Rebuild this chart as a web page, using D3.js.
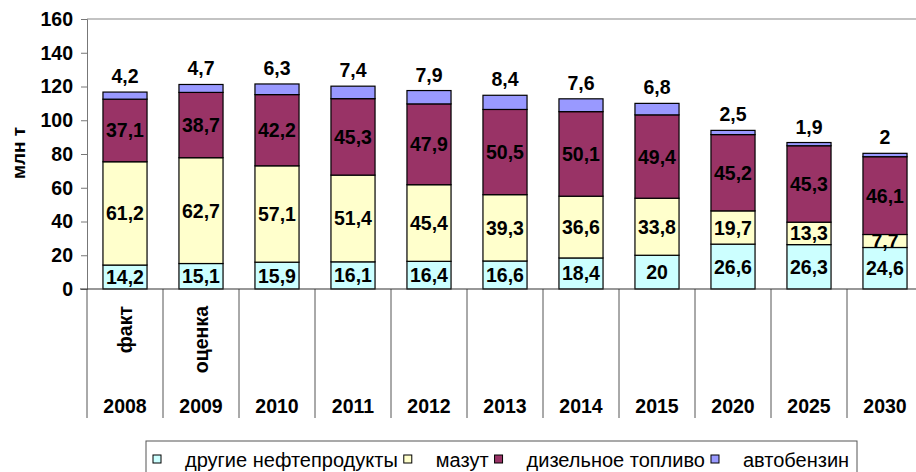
<!DOCTYPE html>
<html>
<head>
<meta charset="utf-8">
<script src="https://cdn.jsdelivr.net/npm/d3@7"></script>
<style>
  body { margin: 0; background: #fff; }
  svg text { font-family: "Liberation Sans", Arial, sans-serif; }
</style>
</head>
<body>
<div id="chart"></div>
<script>
// Data
var years = ["2008", "2009", "2010", "2011", "2012", "2013", "2014", "2015", "2020", "2025", "2030"];
var notes = ["факт", "оценка", "", "", "", "", "", "", "", "", ""];
var other = [14.2, 15.1, 15.9, 16.1, 16.4, 16.6, 18.4, 20, 26.6, 26.3, 24.6];
var mazut = [61.2, 62.7, 57.1, 51.4, 45.4, 39.3, 36.6, 33.8, 19.7, 13.3, 7.7];
var diesel = [37.1, 38.7, 42.2, 45.3, 47.9, 50.5, 50.1, 49.4, 45.2, 45.3, 46.1];
var petrol = [4.2, 4.7, 6.3, 7.4, 7.9, 8.4, 7.6, 6.8, 2.5, 1.9, 2];
var seriesNames = ["другие нефтепродукты", "мазут", "дизельное топливо", "автобензин"];
var seriesColors = ["#ccffff", "#ffffcc", "#993366", "#9999ff"];
var yTicks = [0, 20, 40, 60, 80, 100, 120, 140, 160];

var width = 916, height = 472;
var svg = d3.select("#chart").append("svg")
    .attr("width", width)
    .attr("height", height);

var x = d3.scaleBand().domain(years).range([87, 923]).padding(0);
var y = d3.scaleLinear().domain([0, 160]).range([289, 19]);
var barW = x.bandwidth() * 0.58;
var fs = "19.5px";

// table for stacking
var rows = years.map((yr, i) => ({ year: yr, s0: other[i], s1: mazut[i], s2: diesel[i], s3: petrol[i] }));
var stack = d3.stack().keys(["s0", "s1", "s2", "s3"]);
var layers = stack(rows);

var fmt = v => String(v).replace(".", ",");

// plot frame: top border
svg.append("line")
    .attr("x1", x.range()[0]).attr("x2", x.range()[1])
    .attr("y1", y(160)).attr("y2", y(160))
    .attr("stroke", "#888").attr("stroke-width", 1.2);

// y axis
var yAxis = svg.append("g")
    .attr("transform", "translate(87,0)")
    .call(d3.axisLeft(y).tickValues(yTicks).tickSize(6).tickPadding(8).tickFormat(d3.format("d")));
yAxis.select(".domain").attr("stroke", "#777");
yAxis.selectAll(".tick line").attr("stroke", "#777");
yAxis.selectAll("text")
    .attr("fill", "#000")
    .style("font-size", fs)
    .style("font-weight", "bold")
    .style("font-family", "'Liberation Sans', Arial, sans-serif");

// y label
svg.append("text")
    .attr("transform", "translate(25,153) rotate(-90)")
    .attr("text-anchor", "middle")
    .style("font-size", "19px")
    .style("font-weight", "bold")
    .text("млн т");

// category separators below the axis
var bounds = years.map(d => x(d)).concat([x.range()[1]]);
svg.selectAll(".sep")
    .data(bounds)
    .enter().append("line")
    .attr("class", "sep")
    .attr("x1", d => d).attr("x2", d => d)
    .attr("y1", y(0)).attr("y2", 418)
    .attr("stroke", "#555").attr("stroke-width", 1);

// bars
var g = svg.append("g");
layers.forEach((layer, k) => {
    g.selectAll(".seg" + k)
        .data(layer)
        .enter().append("rect")
        .attr("x", d => x(d.data.year) + (x.bandwidth() - barW) / 2)
        .attr("y", d => y(d[1]))
        .attr("width", barW)
        .attr("height", d => y(d[0]) - y(d[1]))
        .attr("fill", seriesColors[k])
        .attr("stroke", "#000")
        .attr("stroke-width", 1.2);
});

// bottom axis line
svg.append("line")
    .attr("x1", 80).attr("x2", x.range()[1])
    .attr("y1", y(0)).attr("y2", y(0))
    .attr("stroke", "#333").attr("stroke-width", 1.2);

// value labels
layers.forEach((layer, k) => {
    svg.selectAll(".lab" + k)
        .data(layer)
        .enter().append("text")
        .attr("x", d => x(d.data.year) + x.bandwidth() / 2)
        .attr("y", d => k < 3 ? y((d[0] + d[1]) / 2) : y(d[1]) - 9)
        .attr("dy", k < 3 ? "0.36em" : 0)
        .attr("text-anchor", "middle")
        .style("font-size", fs)
        .style("font-weight", "bold")
        .text(d => fmt(d.data["s" + k]));
});

// year labels and notes
svg.selectAll(".year")
    .data(years)
    .enter().append("text")
    .attr("x", d => x(d) + x.bandwidth() / 2)
    .attr("y", 413)
    .attr("text-anchor", "middle")
    .style("font-size", fs)
    .style("font-weight", "bold")
    .text(d => d);

svg.selectAll(".note")
    .data(years.map((d, i) => ({ year: d, note: notes[i] })).filter(d => d.note))
    .enter().append("text")
    .attr("transform", d => "translate(" + (x(d.year) + x.bandwidth() / 2 + 7) + ",306) rotate(-90)")
    .attr("text-anchor", "end")
    .style("font-size", fs)
    .style("font-weight", "bold")
    .text(d => d.note);

// legend
var legend = svg.append("g");
legend.append("rect")
    .attr("x", 146).attr("y", 441)
    .attr("width", 711).attr("height", 45)
    .attr("fill", "#fff").attr("stroke", "#555").attr("stroke-width", 1);

var lx = 153;
seriesNames.forEach((name, k) => {
    legend.append("rect")
        .attr("x", lx).attr("y", 455)
        .attr("width", 8).attr("height", 8)
        .attr("fill", seriesColors[k])
        .attr("stroke", "#000").attr("stroke-width", 1);
    var t = legend.append("text")
        .attr("x", lx + 32).attr("y", 467)
        .style("font-size", "20px")
        .text(name);
    lx += 32 + t.node().getComputedTextLength() + 6;
});
</script>
</body>
</html>
